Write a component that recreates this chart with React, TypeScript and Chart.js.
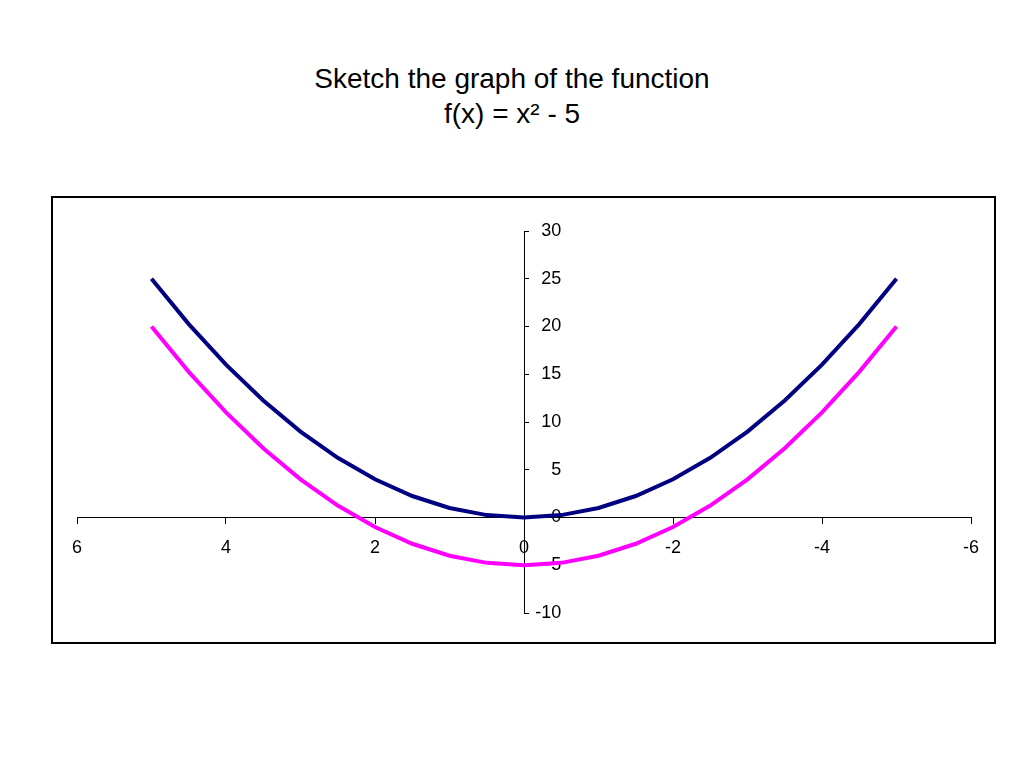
import React, { useEffect, useRef } from "react";
import { Chart, registerables } from "chart.js";

Chart.register(...registerables);

const xValues = [5, 4.5, 4, 3.5, 3, 2.5, 2, 1.5, 1, 0.5, 0, -0.5, -1, -1.5, -2, -2.5, -3, -3.5, -4, -4.5, -5];
const yParabola = [25, 20.25, 16, 12.25, 9, 6.25, 4, 2.25, 1, 0.25, 0, 0.25, 1, 2.25, 4, 6.25, 9, 12.25, 16, 20.25, 25];
const yShifted = [20, 15.25, 11, 7.25, 4, 1.25, -1, -2.75, -4, -4.75, -5, -4.75, -4, -2.75, -1, 1.25, 4, 7.25, 11, 15.25, 20];
const titleLines = ["Sketch the graph of the function", "f(x) = x\u00b2 - 5"];
const xRange = [-6, 6];
const xStep = 2;
const yRange = [-10, 30];
const yStep = 5;

const FONT = "'Liberation Sans', Arial, Helvetica, sans-serif";

export default function App() {
  const canvasRef = useRef<HTMLCanvasElement | null>(null);

  useEffect(() => {
    if (!canvasRef.current) return;
    const tickFont = { family: FONT, size: 18 };
    const chart = new Chart(canvasRef.current, {
      type: "scatter",
      data: {
        datasets: [
          {
            label: "x^2",
            data: xValues.map((x, i) => ({ x, y: yParabola[i] })),
            borderColor: "#000080",
            backgroundColor: "#000080",
            borderWidth: 4,
            showLine: true,
            pointRadius: 0,
            tension: 0,
            xAxisID: "x",
            yAxisID: "y",
          },
          {
            label: "x^2 - 5",
            data: xValues.map((x, i) => ({ x, y: yShifted[i] })),
            borderColor: "#FF00FF",
            backgroundColor: "#FF00FF",
            borderWidth: 4,
            showLine: true,
            pointRadius: 0,
            tension: 0,
            xAxisID: "x",
            yAxisID: "y",
          },
        ],
      },
      options: {
        responsive: false,
        animation: false,
        maintainAspectRatio: false,
        layout: { padding: { left: 24, right: 23, top: 33, bottom: 29 } },
        plugins: {
          legend: { display: false },
          tooltip: { enabled: false },
          title: { display: false },
        },
        scales: {
          x: {
            type: "linear",
            reverse: true,
            min: xRange[0],
            max: xRange[1],
            position: { y: 0 } as any,
            ticks: { stepSize: xStep, color: "#000", font: tickFont, padding: 14, maxRotation: 0 },
            grid: { display: true, drawOnChartArea: false, drawTicks: true, tickLength: 6, tickColor: "#000", color: "#000" },
            border: { display: true, color: "#000", width: 1 },
          },
          y: {
            type: "linear",
            min: yRange[0],
            max: yRange[1],
            position: { x: 0 } as any,
            ticks: { display: false, stepSize: yStep },
            grid: { display: true, drawOnChartArea: false, drawTicks: true, tickLength: -5, tickColor: "#000", color: "#000" },
            border: { display: true, color: "#000", width: 1 },
          },
          yLabels: {
            type: "linear",
            axis: "y",
            min: yRange[0],
            max: yRange[1],
            position: { x: -0.5 } as any,
            ticks: { stepSize: yStep, color: "#000", font: tickFont, padding: 0 },
            grid: { display: false },
            border: { display: false },
          } as any,
        },
      },
    });
    return () => chart.destroy();
  }, []);

  return (
    <div style={{ position: "absolute", left: 0, top: 0, width: 1024, height: 768, background: "#fff" }}>
      <div
        style={{
          position: "absolute",
          left: 0,
          top: 61,
          width: 1024,
          textAlign: "center",
          fontFamily: FONT,
          fontSize: 28,
          lineHeight: "35px",
          color: "#000",
        }}
      >
        {titleLines.map((t, i) => (
          <div key={i}>{t}</div>
        ))}
      </div>
      <div
        style={{
          position: "absolute",
          left: 51,
          top: 196,
          width: 941,
          height: 444,
          border: "2px solid #000",
        }}
      >
        <canvas ref={canvasRef} width={941} height={444} style={{ display: "block" }} />
      </div>
    </div>
  );
}
